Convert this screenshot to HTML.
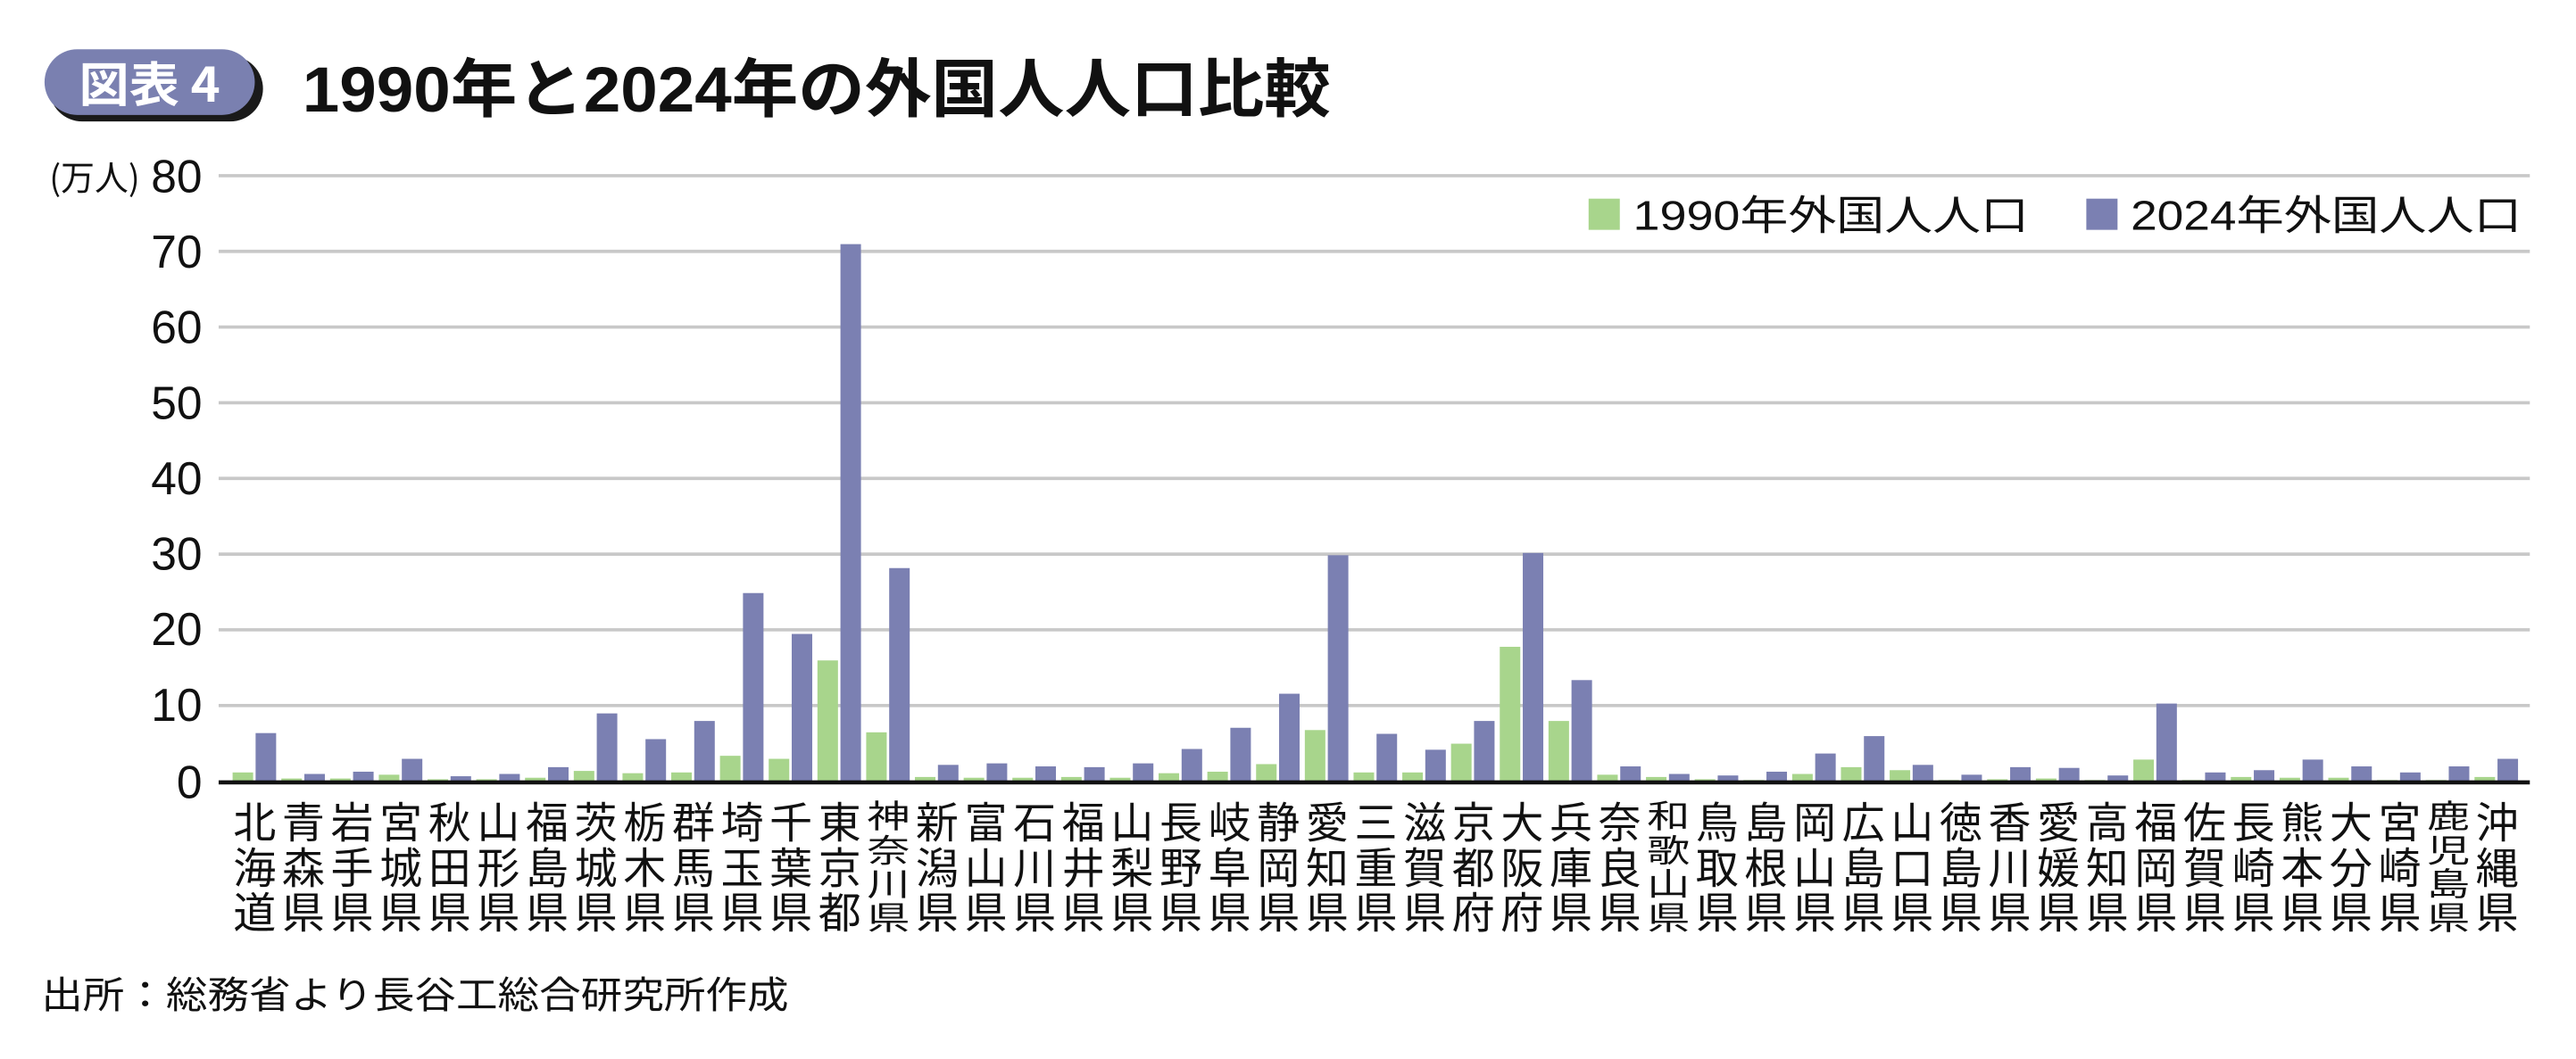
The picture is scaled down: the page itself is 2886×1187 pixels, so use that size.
<!DOCTYPE html>
<html><head><meta charset="utf-8">
<style>
html,body{margin:0;padding:0;background:#fff;}
#wrap{position:relative;width:2886px;height:1187px;overflow:hidden;font-family:"Liberation Sans","Noto Sans CJK JP",sans-serif;}
svg{position:absolute;left:0;top:0;}
#labels{position:absolute;left:258px;top:893px;width:2567px;display:grid;grid-template-columns:repeat(47,1fr);font-size:48px;line-height:50.6px;color:#111;text-align:center;font-family:"Noto Sans CJK JP",sans-serif;}
#labels div.q{transform:scaleY(.75);transform-origin:top center;}
</style></head><body>
<div id="wrap">
<svg width="2886" height="1187" viewBox="0 0 1568 645" xmlns="http://www.w3.org/2000/svg">
  <rect x="30" y="34" width="130" height="40" rx="20" fill="#1a1a1a"/>
  <rect x="27" y="30" width="128" height="40" rx="20" fill="#7a80b0"/>
  <text x="48" y="62" font-size="29" fill="#fff" textLength="86" lengthAdjust="spacingAndGlyphs" font-family="Noto Sans CJK JP, sans-serif" font-weight="bold">図表 4</text>
  <text x="184" y="68" font-size="39" fill="#111" textLength="626" lengthAdjust="spacingAndGlyphs" font-family="Liberation Sans, Noto Sans CJK JP, sans-serif" font-weight="bold">1990年と2024年の外国人人口比較</text>
  <g stroke="#c8c8c8" stroke-width="2">
    <line x1="133" x2="1540" y1="107" y2="107"/>
    <line x1="133" x2="1540" y1="153.1" y2="153.1"/>
    <line x1="133" x2="1540" y1="199.2" y2="199.2"/>
    <line x1="133" x2="1540" y1="245.3" y2="245.3"/>
    <line x1="133" x2="1540" y1="291.4" y2="291.4"/>
    <line x1="133" x2="1540" y1="337.5" y2="337.5"/>
    <line x1="133" x2="1540" y1="383.6" y2="383.6"/>
    <line x1="133" x2="1540" y1="429.7" y2="429.7"/>
  </g>
  <g font-size="28" fill="#111" text-anchor="end" font-family="Liberation Sans Narrow, Liberation Sans, sans-serif">
    <text x="123" y="117">80</text><text x="123" y="163">70</text><text x="123" y="209">60</text>
    <text x="123" y="255">50</text><text x="123" y="301">40</text><text x="123" y="347">30</text>
    <text x="123" y="393">20</text><text x="123" y="439">10</text><text x="123" y="486">0</text>
  </g>
  <text x="30" y="116" font-size="21" fill="#111" textLength="55" lengthAdjust="spacingAndGlyphs" font-family="Noto Sans CJK JP, sans-serif">(万人)</text>
  <g id="bars"></g>
  <line x1="133" x2="1540" y1="476.5" y2="476.5" stroke="#111" stroke-width="2.5"/>
  <rect x="967" y="121" width="19" height="19" fill="#a8d58c"/>
  <text x="994" y="140" font-size="25" fill="#111" textLength="241" lengthAdjust="spacingAndGlyphs" font-family="Liberation Sans, Noto Sans CJK JP, sans-serif">1990年外国人人口</text>
  <rect x="1270" y="121" width="19" height="19" fill="#7b80b2"/>
  <text x="1297" y="140" font-size="25" fill="#111" textLength="238" lengthAdjust="spacingAndGlyphs" font-family="Liberation Sans, Noto Sans CJK JP, sans-serif">2024年外国人人口</text>
  <text x="25" y="614" font-size="23" fill="#111" textLength="455" lengthAdjust="spacingAndGlyphs" font-family="Noto Sans CJK JP, sans-serif">出所：総務省より長谷工総合研究所作成</text>
</svg>
<div id="labels">
<div>北<br>海<br>道</div><div>青<br>森<br>県</div><div>岩<br>手<br>県</div><div>宮<br>城<br>県</div><div>秋<br>田<br>県</div><div>山<br>形<br>県</div><div>福<br>島<br>県</div><div>茨<br>城<br>県</div><div>栃<br>木<br>県</div><div>群<br>馬<br>県</div><div>埼<br>玉<br>県</div><div>千<br>葉<br>県</div><div>東<br>京<br>都</div><div class="q">神<br>奈<br>川<br>県</div><div>新<br>潟<br>県</div><div>富<br>山<br>県</div><div>石<br>川<br>県</div><div>福<br>井<br>県</div><div>山<br>梨<br>県</div><div>長<br>野<br>県</div><div>岐<br>阜<br>県</div><div>静<br>岡<br>県</div><div>愛<br>知<br>県</div><div>三<br>重<br>県</div><div>滋<br>賀<br>県</div><div>京<br>都<br>府</div><div>大<br>阪<br>府</div><div>兵<br>庫<br>県</div><div>奈<br>良<br>県</div><div class="q">和<br>歌<br>山<br>県</div><div>鳥<br>取<br>県</div><div>島<br>根<br>県</div><div>岡<br>山<br>県</div><div>広<br>島<br>県</div><div>山<br>口<br>県</div><div>徳<br>島<br>県</div><div>香<br>川<br>県</div><div>愛<br>媛<br>県</div><div>高<br>知<br>県</div><div>福<br>岡<br>県</div><div>佐<br>賀<br>県</div><div>長<br>崎<br>県</div><div>熊<br>本<br>県</div><div>大<br>分<br>県</div><div>宮<br>崎<br>県</div><div class="q">鹿<br>児<br>島<br>県</div><div>沖<br>縄<br>県</div>
</div>
</div>
<script>
var a=[1.2,0.4,0.4,0.9,0.3,0.3,0.5,1.4,1.1,1.2,3.4,3.0,16.0,6.5,0.6,0.5,0.5,0.6,0.5,1.1,1.3,2.3,6.8,1.2,1.2,5.0,17.8,8.0,0.9,0.6,0.3,0.2,1.0,1.9,1.5,0.2,0.3,0.4,0.2,2.9,0.2,0.6,0.5,0.5,0.2,0.2,0.6];
var b=[6.4,1.0,1.3,3.0,0.7,1.0,1.9,9.0,5.6,8.0,24.9,19.5,71.0,28.2,2.2,2.4,2.0,1.9,2.4,4.3,7.1,11.6,29.9,6.3,4.2,8.0,30.2,13.4,2.0,1.0,0.8,1.3,3.7,6.0,2.2,0.9,1.9,1.8,0.8,10.3,1.2,1.5,2.9,2.0,1.2,2.0,3.0];
var g=document.getElementById('bars'),s='',k=4.61,base=476;
for(var i=0;i<47;i++){var c=155+29.67*i;
s+='<rect x="'+(c-13.5)+'" y="'+(base-a[i]*k)+'" width="12.5" height="'+(a[i]*k)+'" fill="#a8d58c"/>';
s+='<rect x="'+(c+0.5)+'" y="'+(base-b[i]*k)+'" width="12.5" height="'+(b[i]*k)+'" fill="#7b80b2"/>';}
g.innerHTML=s;
</script>
</body></html>
